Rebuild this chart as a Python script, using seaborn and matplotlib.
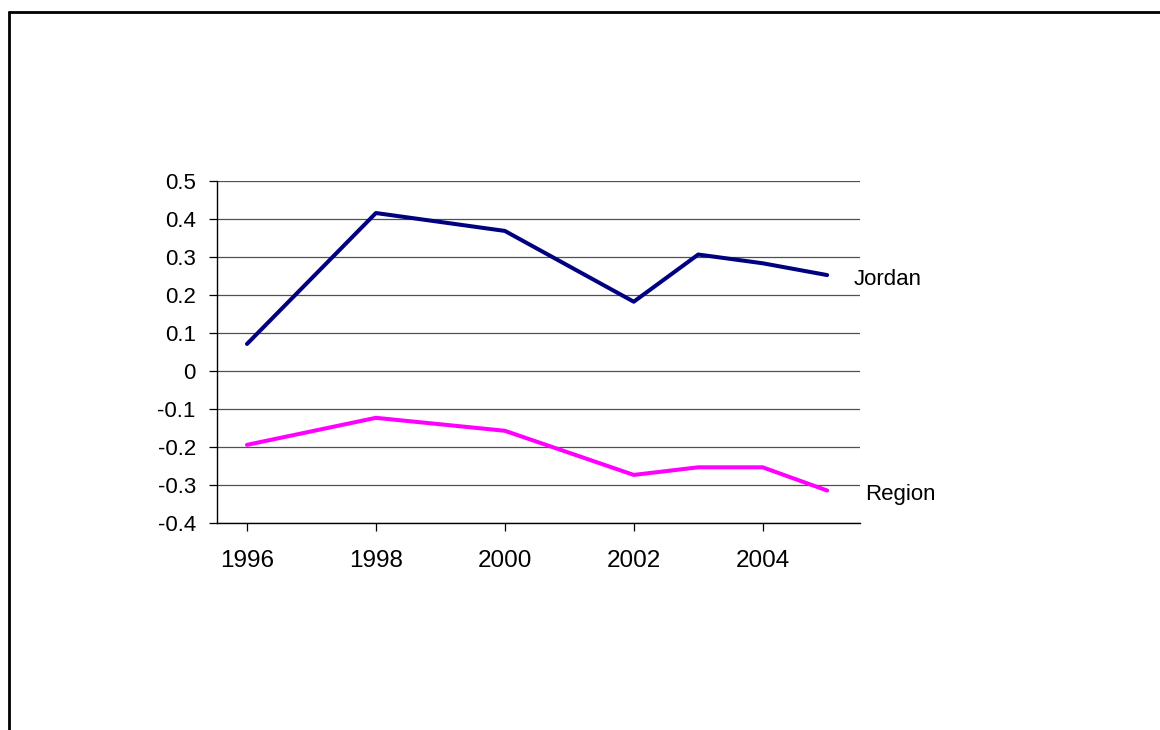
import pandas as pd
import seaborn as sns
import matplotlib.pyplot as plt
from matplotlib.lines import Line2D

years = [1996, 1998, 2000, 2002, 2003, 2004, 2005]
jordan = [0.071, 0.415, 0.368, 0.182, 0.306, 0.283, 0.252]
region = [-0.194, -0.123, -0.157, -0.273, -0.253, -0.253, -0.314]
series_names = ["Jordan", "Region"]
colors = {"Jordan": "#000080", "Region": "#FF00FF"}

df = pd.concat([
	pd.DataFrame({"year": years, "value": jordan, "series": "Jordan"}),
	pd.DataFrame({"year": years, "value": region, "series": "Region"}),
])

sns.set_style("white")
plt.rcParams["font.family"] = ["Liberation Sans", "DejaVu Sans"]
plt.rcParams["text.color"] = "black"
plt.rcParams["xtick.color"] = "black"
plt.rcParams["ytick.color"] = "black"

fig = plt.figure(figsize=(11.6, 7.3), dpi=100)
ax = fig.add_axes([0.1868, 0.2832, 0.7414 - 0.1868, 0.7525 - 0.2832])

sns.lineplot(data=df, x="year", y="value", hue="series", palette=colors,
			 linewidth=2.9, legend=False, ax=ax)

ax.set_xlim(1995.53, 2005.51)
ax.set_ylim(-0.4, 0.5)
ax.set_yticks([-0.4, -0.3, -0.2, -0.1, 0, 0.1, 0.2, 0.3, 0.4, 0.5])
ax.set_yticklabels(["-0.4", "-0.3", "-0.2", "-0.1", "0", "0.1", "0.2", "0.3", "0.4", "0.5"])
ax.set_xticks([1996, 1998, 2000, 2002, 2004])
ax.set_xticklabels(["1996", "1998", "2000", "2002", "2004"])
ax.yaxis.grid(True, color="#505050", linewidth=0.9)
ax.set_axisbelow(True)
ax.set_xlabel("")
ax.set_ylabel("")

for s in ["top", "right"]:
	ax.spines[s].set_visible(False)
for s in ["left", "bottom"]:
	ax.spines[s].set_color("black")
	ax.spines[s].set_linewidth(1.0)

ax.tick_params(axis="y", which="major", direction="out", length=6, width=0.9,
			   color="black", labelcolor="black", labelsize=16, pad=9, left=True)
ax.tick_params(axis="x", which="major", direction="out", length=6, width=0.9,
			   color="black", labelcolor="black", labelsize=17.5, pad=13, bottom=True)

# series names placed next to the last point of each line
offsets = {"Jordan": (27, -4), "Region": (38, -4)}
for name, vals in zip(series_names, [jordan, region]):
	ax.annotate(name, xy=(years[-1], vals[-1]), xytext=offsets[name],
				textcoords="offset pixels", fontsize=16, va="center", ha="left",
				color="black", annotation_clip=False)

# outer frame (right and bottom fall outside the picture)
fig.add_artist(Line2D([9 / 1160, 1.01], [1 - 12 / 730, 1 - 12 / 730],
					  transform=fig.transFigure, color="black", linewidth=2))
fig.add_artist(Line2D([9 / 1160, 9 / 1160], [-0.01, 1 - 12 / 730],
					  transform=fig.transFigure, color="black", linewidth=2))

fig.savefig("out.png", dpi=100)
